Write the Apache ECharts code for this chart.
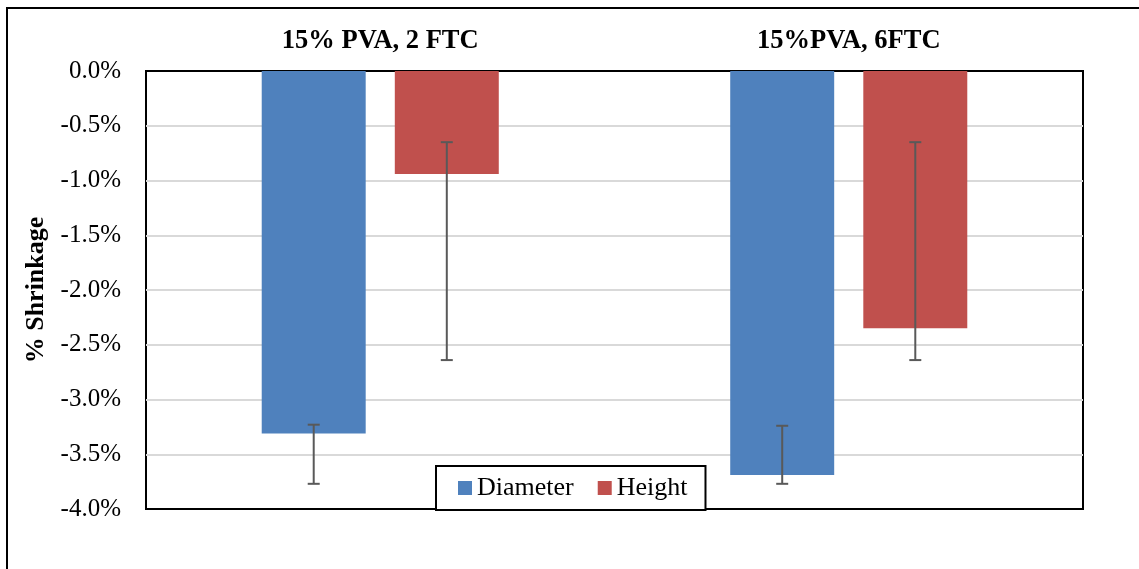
<!DOCTYPE html>
<html>
<head>
<meta charset="utf-8">
<script src="https://cdn.jsdelivr.net/npm/echarts@6/dist/echarts.min.js"></script>
<style>
  html, body { margin: 0; padding: 0; background: #fff; }
  #chart { width: 1139px; height: 569px; }
</style>
</head>
<body>
<div id="chart"></div>
<script>
// data
const categories = ['15% PVA, 2 FTC', '15%PVA, 6FTC'];
const diameter = [-3.31, -3.69];
const height = [-0.94, -2.35];
// error bar ends (top, bottom)
const diameterErrTop = [-3.23, -3.24];
const diameterErrBottom = [-3.77, -3.77];
const heightErrTop = [-0.65, -0.65];
const heightErrBottom = [-2.64, -2.64];

const FONT = "'Liberation Serif', 'Times New Roman', serif";
const catGap = 0.494;
const barGap = 0.28;

// error bars drawn on top of the bars, side -1 = first bar, +1 = second bar
const makeErrorSeries = function (tops, bottoms, side) {
  return {
    type: 'custom',
    silent: true,
    z: 10,
    data: tops.map((t, i) => [i, t, bottoms[i]]),
    renderItem: function (params, api) {
      const idx = api.value(0);
      const p1 = api.coord([idx, api.value(1)]);
      const p2 = api.coord([idx, api.value(2)]);
      const band = api.size([1, 0])[0];
      const bw = band * (1 - catGap) / (2 + barGap);
      const x = p1[0] + side * bw * (1 + barGap) / 2;
      const cap = 6;
      const st = { stroke: '#595959', lineWidth: 2 };
      return {
        type: 'group',
        children: [
          { type: 'line', shape: { x1: x, y1: p1[1], x2: x, y2: p2[1] }, style: st },
          { type: 'line', shape: { x1: x - cap, y1: p1[1], x2: x + cap, y2: p1[1] }, style: st },
          { type: 'line', shape: { x1: x - cap, y1: p2[1], x2: x + cap, y2: p2[1] }, style: st }
        ]
      };
    }
  };
};

const myChart = echarts.init(document.getElementById('chart'), null, { renderer: 'canvas' });
const option = {
  animation: false,
  backgroundColor: '#fff',
  textStyle: { fontFamily: FONT, color: '#000' },
  graphic: [
    {
      type: 'polyline',
      shape: { points: [[7, 569], [7, 8], [1139, 8]] },
      style: { stroke: '#000', lineWidth: 2, fill: null }
    }
  ],
  grid: {
    left: 146, right: 56, top: 71, bottom: 60,
    show: true, borderColor: '#000', borderWidth: 2, backgroundColor: 'transparent'
  },
  legend: {
    data: ['Diameter', 'Height'],
    left: 436, top: 466,
    padding: [9, 18, 9, 22],
    itemGap: 24,
    itemWidth: 14, itemHeight: 14,
    icon: 'rect',
    backgroundColor: '#fff',
    borderColor: '#000', borderWidth: 2,
    textStyle: { fontFamily: FONT, fontSize: 26, color: '#000' }
  },
  xAxis: {
    type: 'category',
    position: 'top',
    data: categories,
    axisLine: { show: false },
    axisTick: { show: false },
    axisLabel: { fontFamily: FONT, fontSize: 26.5, fontWeight: 'bold', color: '#000', margin: 16 }
  },
  yAxis: {
    type: 'value',
    min: -4, max: 0, interval: 0.5,
    name: '% Shrinkage',
    nameLocation: 'middle',
    nameGap: 88,
    nameTextStyle: { fontFamily: FONT, fontSize: 26, fontWeight: 'bold', color: '#000' },
    axisLine: { show: false },
    axisTick: { show: false },
    axisLabel: {
      fontFamily: FONT, fontSize: 25, color: '#000', margin: 25,
      formatter: v => (Math.abs(v) < 1e-9 ? '0.0' : v.toFixed(1)) + '%'
    },
    splitLine: { showMinLine: false, showMaxLine: false, lineStyle: { color: '#d9d9d9', width: 2 } }
  },
  series: [
    {
      name: 'Diameter', type: 'bar', data: diameter,
      itemStyle: { color: '#4f81bd' },
      barGap: (barGap * 100) + '%', barCategoryGap: (catGap * 100) + '%'
    },
    {
      name: 'Height', type: 'bar', data: height,
      itemStyle: { color: '#c0504d' }
    },
    makeErrorSeries(diameterErrTop, diameterErrBottom, -1),
    makeErrorSeries(heightErrTop, heightErrBottom, 1)
  ]
};

option && myChart.setOption(option);
</script>
</body>
</html>
